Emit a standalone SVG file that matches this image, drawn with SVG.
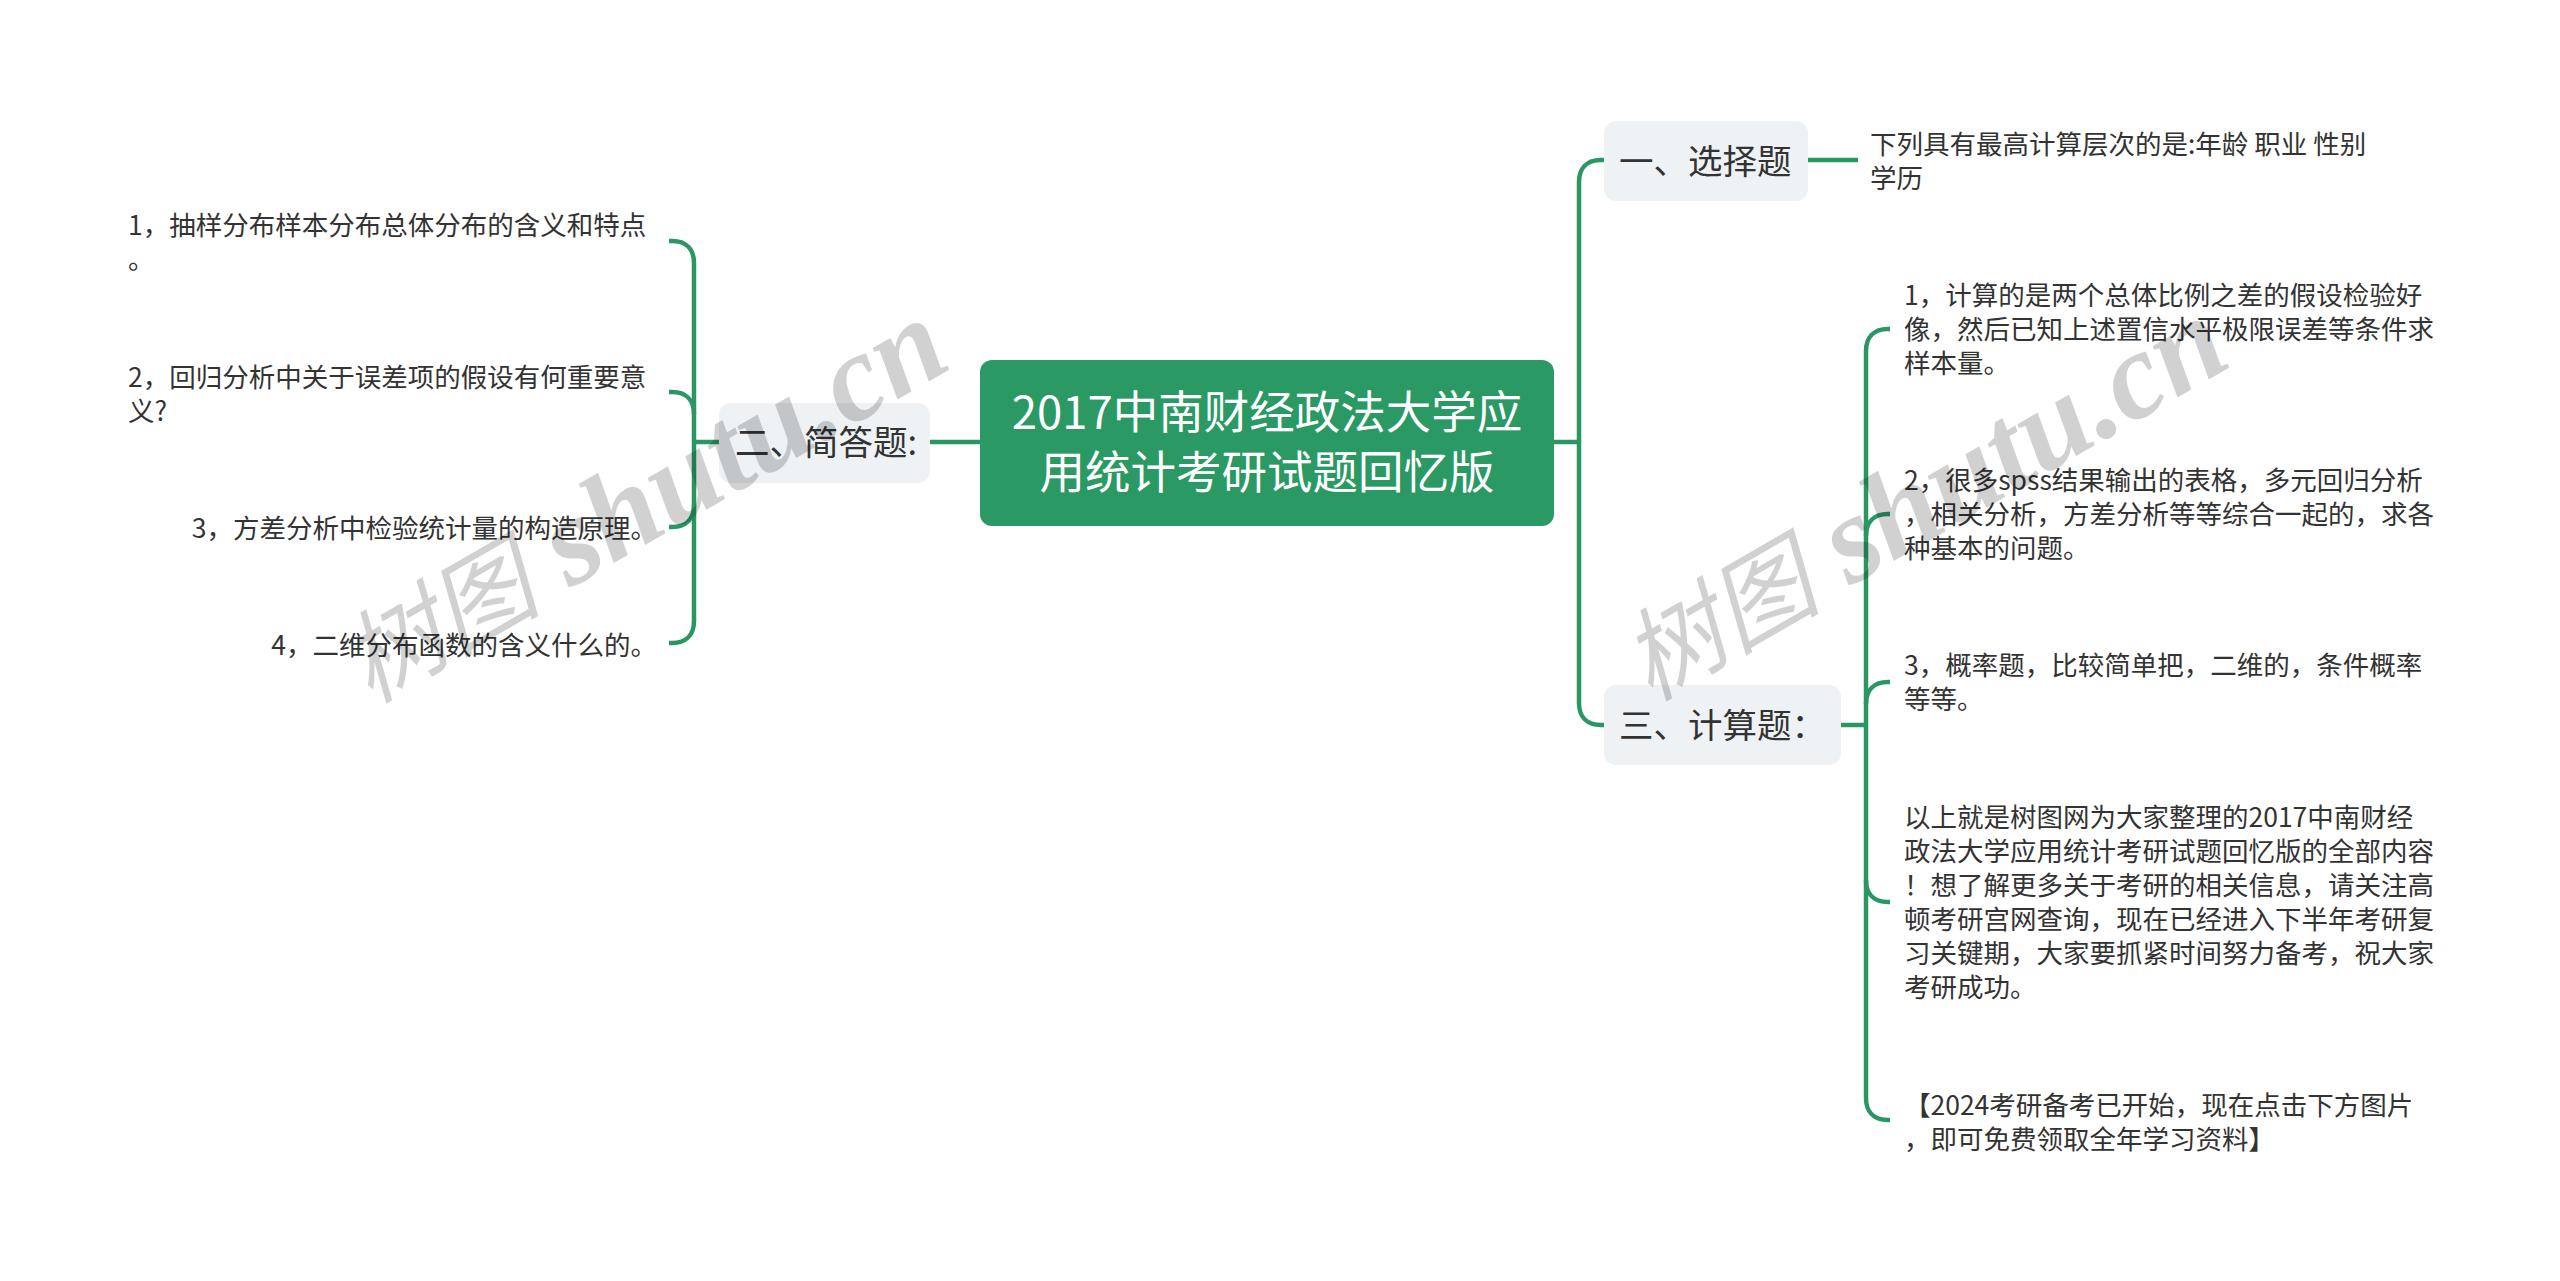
<svg xmlns="http://www.w3.org/2000/svg" width="2560" height="1281" viewBox="0 0 2560 1281">
<style>
text{font-family:"Noto Sans CJK SC","Noto Sans",sans-serif;fill:#333}
.leaf{font-size:26.5px}
.branch{font-size:34.5px}
.root{font-size:45.5px;fill:#fff;text-anchor:middle}
.box{fill:#eef2f5}
.end{text-anchor:end}
.wm{font-size:124px;fill:#000;fill-opacity:.18}
.wm .cjk{font-family:"Noto Sans CJK SC",sans-serif;font-size:100px;font-style:italic}
.wm .lat{font-family:"Liberation Serif",serif;font-style:italic;font-weight:bold}
#connectors path{fill:none;stroke:#2a9664;stroke-width:4.5}
</style>
<rect width="2560" height="1281" fill="#fff"/>
<g id="connectors">
<path d="M930 442H980"/>
<path d="M1554 442H1579"/>
<path d="M1604 160H1601C1587 160 1579 168 1579 182V703C1579 717 1587 725 1601 725H1604"/>
<path d="M1808 160H1858"/>
<path d="M1841 725H1866"/>
<path d="M1890 329H1888C1874 329 1866 337 1866 351V1098C1866 1112 1874 1120 1888 1120H1890"/>
<path d="M1890 514H1888C1874 514 1866 522 1866 536"/>
<path d="M1890 682H1888C1874 682 1866 690 1866 704"/>
<path d="M1890 902H1888C1874 902 1866 894 1866 880"/>
<path d="M719 442H694"/>
<path d="M669 241H672C686 241 694 249 694 263V621C694 635 686 643 672 643H669"/>
<path d="M669 392H672C686 392 694 400 694 414"/>
<path d="M669 527H672C686 527 694 519 694 505"/>
</g>
<g id="root"><rect x="980" y="360" width="574" height="166" rx="12" fill="#2a9964"/>
<text class="root" x="1267" y="429">2017中南财经政法大学应</text>
<text class="root" x="1267" y="489">用统计考研试题回忆版</text></g>
<g id="b1"><rect class="box" x="1604" y="121" width="204" height="80" rx="12"/><text class="branch" x="1619" y="174">一、选择题</text></g>
<g id="b2"><rect class="box" x="719" y="403" width="211" height="80" rx="12"/><text class="branch" x="735" y="455">二、简答题:</text></g>
<g id="b3"><rect class="box" x="1604" y="685" width="237" height="80" rx="12"/><text class="branch" x="1619" y="738">三、计算题：</text></g>
<g id="t0"><text class="leaf" x="1870" y="154">下列具有最高计算层次的是:年龄 职业 性别</text><text class="leaf" x="1870" y="188">学历</text></g>
<g id="l1"><text class="leaf" x="128" y="235">1，抽样分布样本分布总体分布的含义和特点</text><text class="leaf" x="128" y="269">。</text></g>
<g id="l2"><text class="leaf" x="128" y="387">2，回归分析中关于误差项的假设有何重要意</text><text class="leaf" x="128" y="421">义?</text></g>
<g id="l3"><text class="leaf end" x="657" y="538">3，方差分析中检验统计量的构造原理。</text></g>
<g id="l4"><text class="leaf end" x="657" y="655">4，二维分布函数的含义什么的。</text></g>
<g id="r1"><text class="leaf" x="1904" y="305">1，计算的是两个总体比例之差的假设检验好</text><text class="leaf" x="1904" y="339">像，然后已知上述置信水平极限误差等条件求</text><text class="leaf" x="1904" y="373">样本量。</text></g>
<g id="r2"><text class="leaf" x="1904" y="490">2，很多spss结果输出的表格，多元回归分析</text><text class="leaf" x="1904" y="524">，相关分析，方差分析等等综合一起的，求各</text><text class="leaf" x="1904" y="558">种基本的问题。</text></g>
<g id="r3"><text class="leaf" x="1904" y="675">3，概率题，比较简单把，二维的，条件概率</text><text class="leaf" x="1904" y="709">等等。</text></g>
<g id="r4"><text class="leaf" x="1904" y="827">以上就是树图网为大家整理的2017中南财经</text><text class="leaf" x="1904" y="861">政法大学应用统计考研试题回忆版的全部内容</text><text class="leaf" x="1904" y="895">！想了解更多关于考研的相关信息，请关注高</text><text class="leaf" x="1904" y="929">顿考研宫网查询，现在已经进入下半年考研复</text><text class="leaf" x="1904" y="963">习关键期，大家要抓紧时间努力备考，祝大家</text><text class="leaf" x="1904" y="997">考研成功。</text></g>
<g id="r5"><text class="leaf" x="1904" y="1115">【2024考研备考已开始，现在点击下方图片</text><text class="leaf" x="1904" y="1149">，即可免费领取全年学习资料】</text></g>
<g id="watermarks"><text class="wm" transform="translate(370 704) rotate(-30)"><tspan class="cjk">树图</tspan><tspan class="lat"> shutu.cn</tspan></text><text class="wm" transform="translate(1650 702) rotate(-30)"><tspan class="cjk">树图</tspan><tspan class="lat"> shutu.cn</tspan></text></g>
</svg>
